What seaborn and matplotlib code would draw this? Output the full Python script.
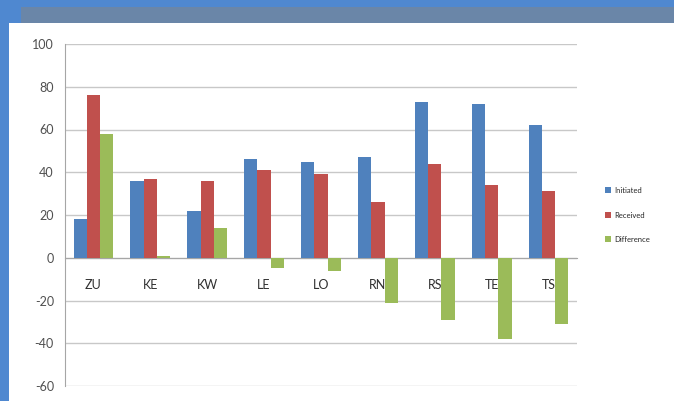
"""
Calls initiated vs received per site, with difference
Output: out.png
"""

import pandas as pd
import matplotlib.pyplot as plt
import seaborn as sns
from matplotlib.patches import Rectangle

sites = ["ZU", "KE", "KW", "LE", "LO", "RN", "RS", "TE", "TS"]
initiated = [18, 36, 22, 46, 45, 47, 73, 72, 62]
received = [76, 37, 36, 41, 39, 26, 44, 34, 31]
difference = [58, 1, 14, -5, -6, -21, -29, -38, -31]
series_names = ["Initiated", "Received", "Difference"]
colors = ["#4F81BD", "#C0504D", "#9BBB59"]
y_ticks = [100, 80, 60, 40, 20, 0, -20, -40, -60]


def build_frame():
    """Long-form table for seaborn"""
    rows = []
    for name, vals in zip(series_names, [initiated, received, difference]):
        for site, v in zip(sites, vals):
            rows.append({"site": site, "series": name, "value": v})
    return pd.DataFrame(rows)


def main():
    df = build_frame()
    sns.set_style("white")
    plt.rcParams["font.family"] = ["Lato", "DejaVu Sans"]
    plt.rcParams["axes.unicode_minus"] = False

    fig = plt.figure(figsize=(6.74, 4.01), dpi=100)
    W, H = 674, 401
    fig.patch.set_facecolor("#4F88D0")
    # gray title band and white chart body (kept behind the axes)
    fig.patches.append(Rectangle((21 / W, 1 - 23 / H), 1, 16 / H, transform=fig.transFigure,
                                 facecolor="#6A86A8", edgecolor="none", zorder=-10))
    fig.patches.append(Rectangle((9 / W, 0), 1, 1 - 23 / H, transform=fig.transFigure,
                                 facecolor="white", edgecolor="none", zorder=-10))

    ax = fig.add_axes([65 / W, 1 - 386 / H, (577 - 65) / W, (386 - 44) / H])
    ax.set_facecolor("none")
    sns.barplot(data=df, x="site", y="value", hue="series", hue_order=series_names,
                palette=colors, width=0.7, saturation=1, linewidth=0, ax=ax, zorder=3)

    ax.set_ylim(-60, 100)
    ax.set_xlim(-0.5, len(sites) - 0.5)
    ax.set_yticks(y_ticks)
    ax.yaxis.grid(True, color="#C8C8C8", linewidth=1.0, zorder=0)
    ax.set_axisbelow(True)
    ax.set_xlabel("")
    ax.set_ylabel("")

    for s in ["top", "right"]:
        ax.spines[s].set_visible(False)
    ax.spines["left"].set_color("#A6A6A6")
    ax.spines["bottom"].set_color("#A6A6A6")
    ax.spines["bottom"].set_position(("data", 0))

    ax.tick_params(axis="y", length=5, color="#A6A6A6", labelsize=9, labelcolor="#505050", pad=3)
    ax.tick_params(axis="x", which="major", length=0, labelsize=9, labelcolor="#303030", pad=15)
    ax.set_xticks([i + 0.5 for i in range(len(sites))], minor=True)
    ax.tick_params(axis="x", which="minor", length=4, color="#A6A6A6", direction="out")

    ax.legend(loc="center left", bbox_to_anchor=(598 / W, 1 - 215 / H),
              bbox_transform=fig.transFigure, frameon=False, fontsize=5.5,
              handlelength=0.8, handleheight=0.8, handletextpad=0.4, labelspacing=2.3)

    plt.savefig("out.png", dpi=100)
    plt.close()


if __name__ == "__main__":
    main()
